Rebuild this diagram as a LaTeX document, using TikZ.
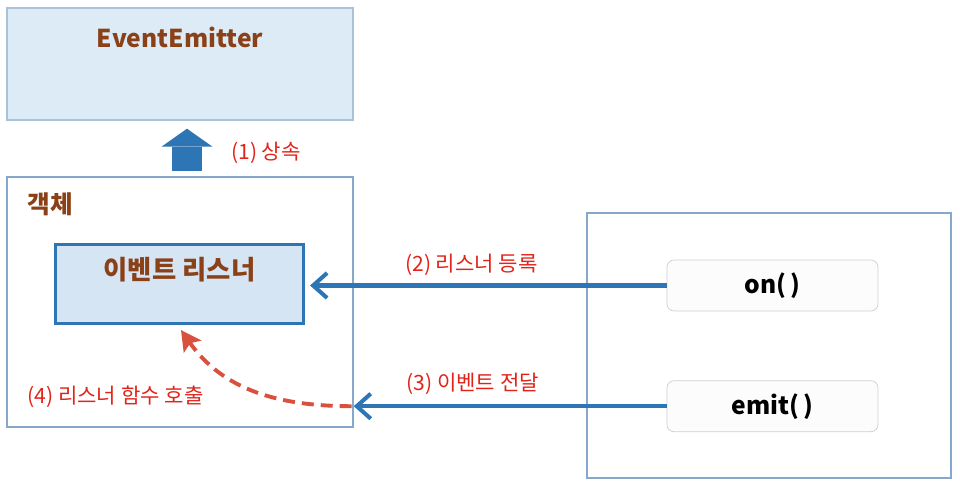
\documentclass[tikz,border=0pt]{standalone}
\usepackage{fontspec}
\setmainfont{Noto Sans CJK KR}
\usepackage{tikz}
\usetikzlibrary{positioning,arrows.meta}
\definecolor{parentfill}{HTML}{DDEBF7}
\definecolor{parentframe}{HTML}{A9C2DA}
\definecolor{frameblue}{HTML}{86A9CB}
\definecolor{listenerfill}{HTML}{D5E5F4}
\definecolor{callblue}{HTML}{2E75B6}
\definecolor{titlebrown}{HTML}{8A4117}
\definecolor{labelred}{HTML}{E2231A}
\definecolor{callbackred}{HTML}{D9503F}
\definecolor{methodgray}{HTML}{CFCFCF}
\definecolor{methodfill}{HTML}{FCFCFC}

\begin{document}
\begin{tikzpicture}[
        outer_style/.style={draw=frameblue, line width=0.8pt, rectangle, inner sep=0pt},
        title_style/.style={font=\fontsize{14}{16}\selectfont\bfseries, text=titlebrown},
        method_style/.style={draw=methodgray, fill=methodfill, rounded corners=4pt, minimum width=4.22cm, minimum height=1.02cm, font=\fontsize{14}{16}\selectfont\bfseries},
        label_style/.style={font=\fontsize{12}{14}\selectfont, text=labelred},
        call_style/.style={draw=callblue, line width=2.3pt, -{Straight Barb[length=0.28cm, width=0.5cm]}},
        callback_style/.style={draw=callbackred, line width=2.2pt, dash pattern=on 0.24cm off 0.14cm, -{Stealth[length=0.4cm, width=0.42cm, inset=0.08cm]}}
    ]
    \useasboundingbox (0,0) rectangle (19.2,9.7);
    
    % Parent class
    \node[outer_style, fill=parentfill, draw=parentframe, minimum width=6.92cm, minimum height=2.24cm] (emitter) at (3.6,8.42) {};
    \node[title_style] (emitter_text) at ([yshift=-0.6cm]emitter.north) {EventEmitter};
    
    % Object with its listener
    \node[outer_style, fill=white, minimum width=6.92cm, minimum height=5cm] (obj) at (3.6,3.66) {};
    \node[title_style, anchor=west] (obj_text) at ([xshift=0.3cm,yshift=-0.56cm]obj.north west) {객체};
    \node[draw=callblue, fill=listenerfill, line width=1.8pt, minimum width=4.96cm, minimum height=1.58cm] (listener) at (3.59,4.02) {};
    \node[title_style, font=\fontsize{15}{17}\selectfont\bfseries] (listener_text) at ([yshift=0.28cm]listener.center) {이벤트 리스너};
    
    % Methods
    \node[outer_style, minimum width=7.28cm, minimum height=5.3cm] (source) at (15.38,2.79) {};
    \node[method_style] (on) at (15.45,3.99) {on(\hspace{0.15em})};
    \node[method_style, below=1.38cm of on] (emit) {emit(\hspace{0.15em})};
    
    % (1) Inheritance
    \draw[draw=callblue, line width=0.6cm, -{Triangle[length=0.36cm, width=1.02cm, line width=0pt]}] ([xshift=0.14cm,yshift=0.1cm]obj.north) -- ([xshift=0.14cm,yshift=-0.16cm]emitter.south);
    \node[label_style, anchor=west] (inherit_text) at ([xshift=0.9cm,yshift=-0.64cm]emitter.south) {(1) 상속};
    
    % (2) Registration
    \draw[call_style, shorten >=0.1cm] (on.west) -- (on.west -| listener.east) node[label_style, above, yshift=1pt, pos=0.54] (register_text) {(2) 리스너 등록};
    
    % (3) Event
    \draw[call_style] (emit.west) -- (emit.west -| obj.east) node[label_style, above, yshift=2pt, pos=0.62] (event_text) {(3) 이벤트 전달};
    
    % (4) Callback
    \draw[callback_style] ([xshift=-0.04cm]emit.west -| obj.east) to[out=180, in=-55] ([xshift=0.03cm,yshift=-0.1cm]listener.south);
    \node[label_style, anchor=west] (callback_text) at ([xshift=0.3cm,yshift=-1.9cm]obj.west) {(4) 리스너 함수 호출};
    
\end{tikzpicture}
\end{document}
